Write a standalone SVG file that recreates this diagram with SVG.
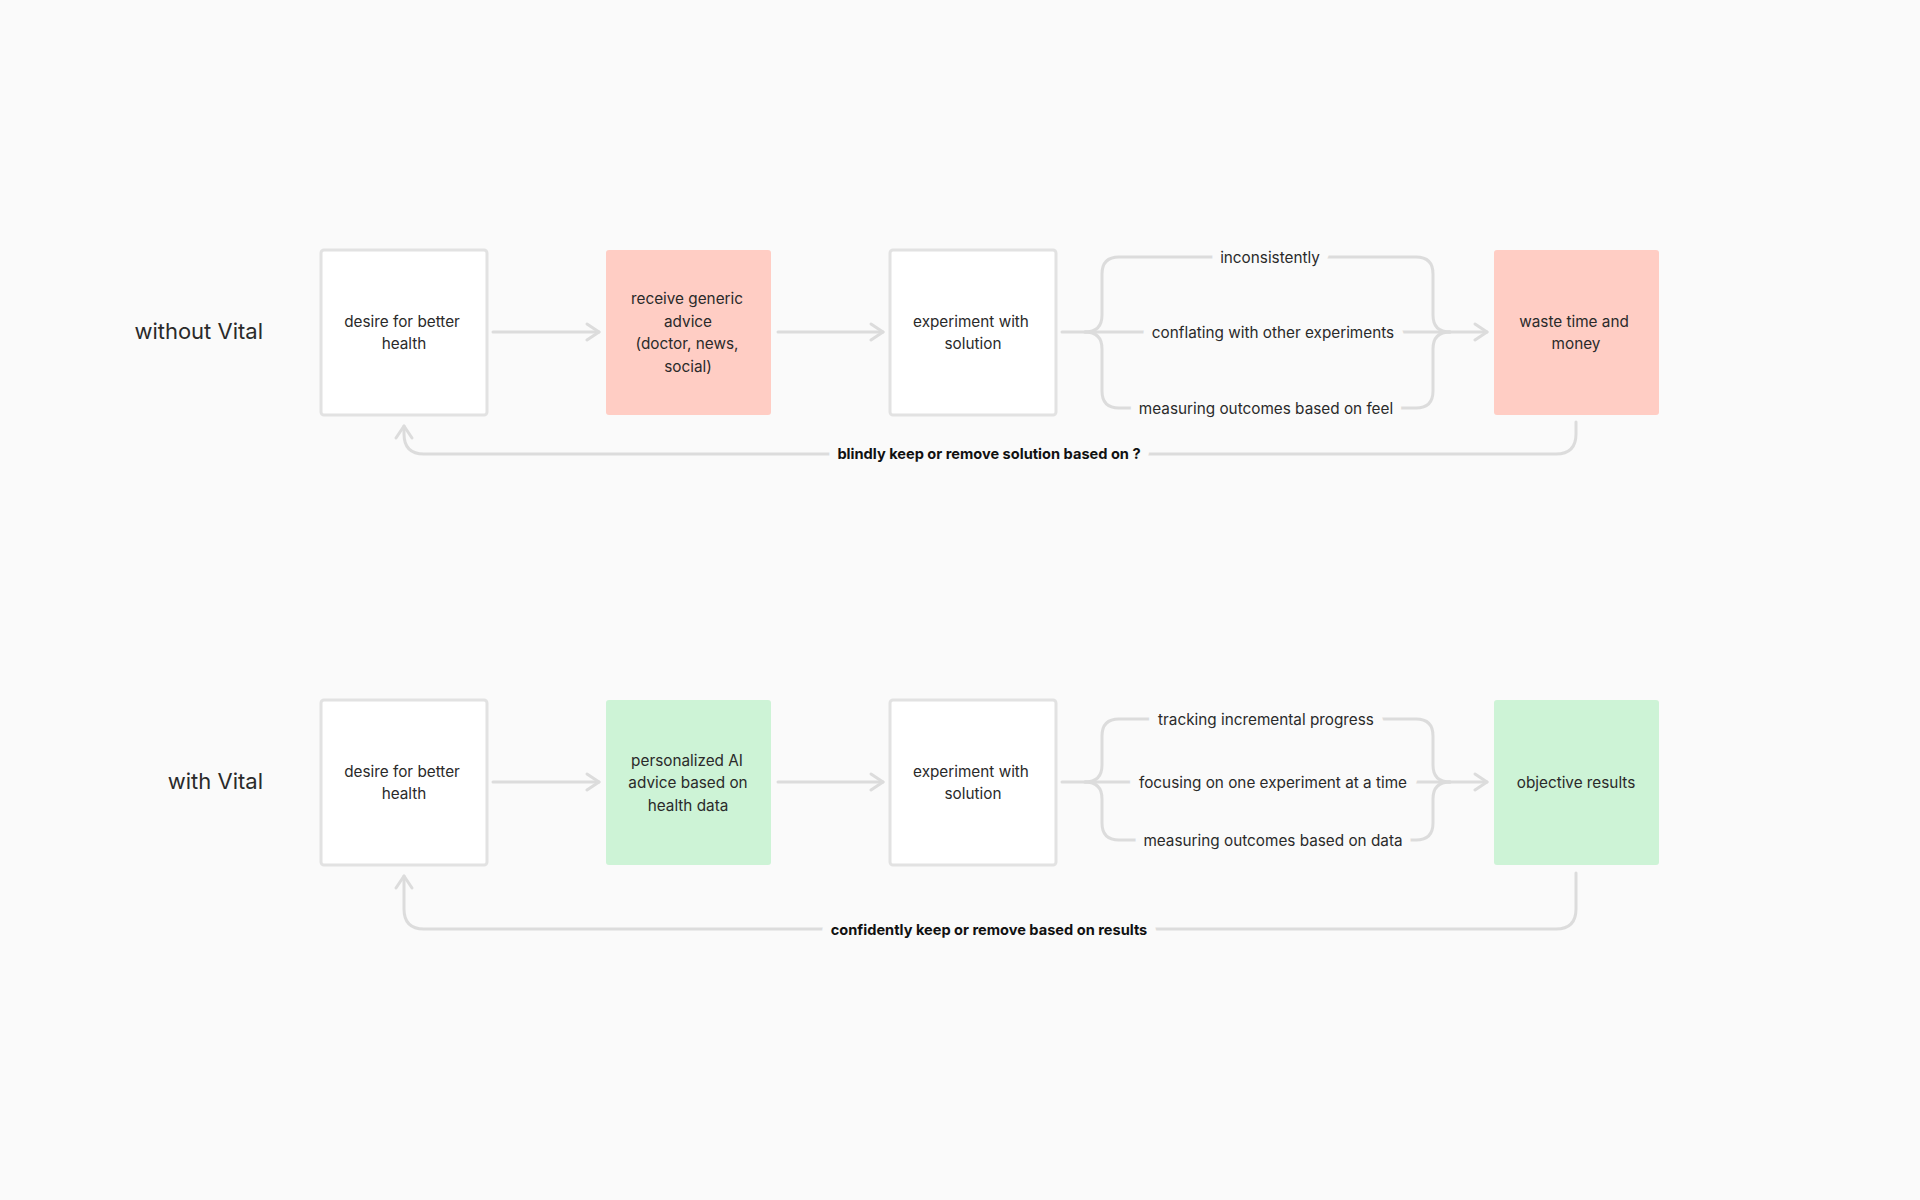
<svg xmlns="http://www.w3.org/2000/svg" width="1920" height="1200" viewBox="0 0 1920 1200">
<defs>
<marker id="ah" viewBox="0 0 20 20" refX="17" refY="10" markerWidth="20" markerHeight="20" markerUnits="userSpaceOnUse" orient="auto">
<path d="M5,2 L17,10 L5,18" fill="none" stroke="#dcdcdc" stroke-width="3" stroke-linecap="round" stroke-linejoin="round"/>
</marker>
</defs>
<style>
text{font-family:Inter,"Liberation Sans",sans-serif;fill:#2a2a2a;text-anchor:middle}
.n{font-size:15.3px}
.lab{font-size:22px;text-anchor:end}
.e{font-size:15.3px;paint-order:stroke;stroke:#fafafa;stroke-width:18px}
.fb{font-size:14.6px;font-weight:bold;fill:#111;paint-order:stroke;stroke:#fafafa;stroke-width:18px}
.w{fill:#fff;stroke:#e2e2e2;stroke-width:3}
.r{fill:#ffcdc4}
.g{fill:#cdf3d6}
.c{fill:none;stroke:#dcdcdc;stroke-width:3;stroke-linecap:round}
</style>
<rect width="1920" height="1200" fill="#fafafa"/>
<text class="lab" x="263" y="339">without Vital</text>
<text class="lab" x="263" y="789">with Vital</text>
<g id="connectors">
<path class="c" d="M493,332 H599" marker-end="url(#ah)"/>
<path class="c" d="M778,332 H883" marker-end="url(#ah)"/>
<path class="c" d="M1062,332 H1085 Q1102,332 1102,315 V274 Q1102,257 1119,257 H1416 Q1433,257 1433,274 V315 Q1433,332 1450,332"/>
<path class="c" d="M1085,332 Q1102,332 1102,349 V391 Q1102,408 1119,408 H1416 Q1433,408 1433,391 V349 Q1433,332 1450,332"/>
<path class="c" d="M1085,332 H1487" marker-end="url(#ah)"/>
<path class="c" d="M1576,422 V434 Q1576,454 1556,454 H424 Q404,454 404,434 V426" marker-end="url(#ah)"/>
<path class="c" d="M493,782 H599" marker-end="url(#ah)"/>
<path class="c" d="M778,782 H883" marker-end="url(#ah)"/>
<path class="c" d="M1062,782 H1085 Q1102,782 1102,765 V736 Q1102,719 1119,719 H1416 Q1433,719 1433,736 V765 Q1433,782 1450,782"/>
<path class="c" d="M1085,782 Q1102,782 1102,799 V823 Q1102,840 1119,840 H1416 Q1433,840 1433,823 V799 Q1433,782 1450,782"/>
<path class="c" d="M1085,782 H1487" marker-end="url(#ah)"/>
<path class="c" d="M1576,873 V909 Q1576,929 1556,929 H424 Q404,929 404,909 V876" marker-end="url(#ah)"/>
<text class="e" x="1270" y="263">inconsistently</text>
<text class="e" x="1273" y="338">conflating with other experiments</text>
<text class="e" x="1266" y="414">measuring outcomes based on feel</text>
<text class="fb" x="989" y="459">blindly keep or remove solution based on ?</text>
<text class="e" x="1266" y="725">tracking incremental progress</text>
<text class="e" x="1273" y="788">focusing on one experiment at a time</text>
<text class="e" x="1273" y="846">measuring outcomes based on data</text>
<text class="fb" x="989" y="935">confidently keep or remove based on results</text>
</g>
<g id="a1"><rect class="w" x="321" y="250" width="166" height="165" rx="3"/><text class="n" x="402" y="327">desire for better</text><text class="n" x="404" y="349">health</text></g>
<g id="a2"><rect class="r" x="606" y="250" width="165" height="165" rx="3"/><text class="n" x="687" y="304">receive generic</text><text class="n" x="688" y="327">advice</text><text class="n" x="687" y="349">(doctor, news,</text><text class="n" x="688" y="372">social)</text></g>
<g id="a3"><rect class="w" x="890" y="250" width="166" height="165" rx="3"/><text class="n" x="971" y="327">experiment with</text><text class="n" x="973" y="349">solution</text></g>
<g id="a4"><rect class="r" x="1494" y="250" width="165" height="165" rx="3"/><text class="n" x="1574" y="327">waste time and</text><text class="n" x="1576" y="349">money</text></g>
<g id="b1"><rect class="w" x="321" y="700" width="166" height="165" rx="3"/><text class="n" x="402" y="777">desire for better</text><text class="n" x="404" y="799">health</text></g>
<g id="b2"><rect class="g" x="606" y="700" width="165" height="165" rx="3"/><text class="n" x="687" y="766">personalized AI</text><text class="n" x="688" y="788">advice based on</text><text class="n" x="688" y="811">health data</text></g>
<g id="b3"><rect class="w" x="890" y="700" width="166" height="165" rx="3"/><text class="n" x="971" y="777">experiment with</text><text class="n" x="973" y="799">solution</text></g>
<g id="b4"><rect class="g" x="1494" y="700" width="165" height="165" rx="3"/><text class="n" x="1576" y="788">objective results</text></g>
</svg>
